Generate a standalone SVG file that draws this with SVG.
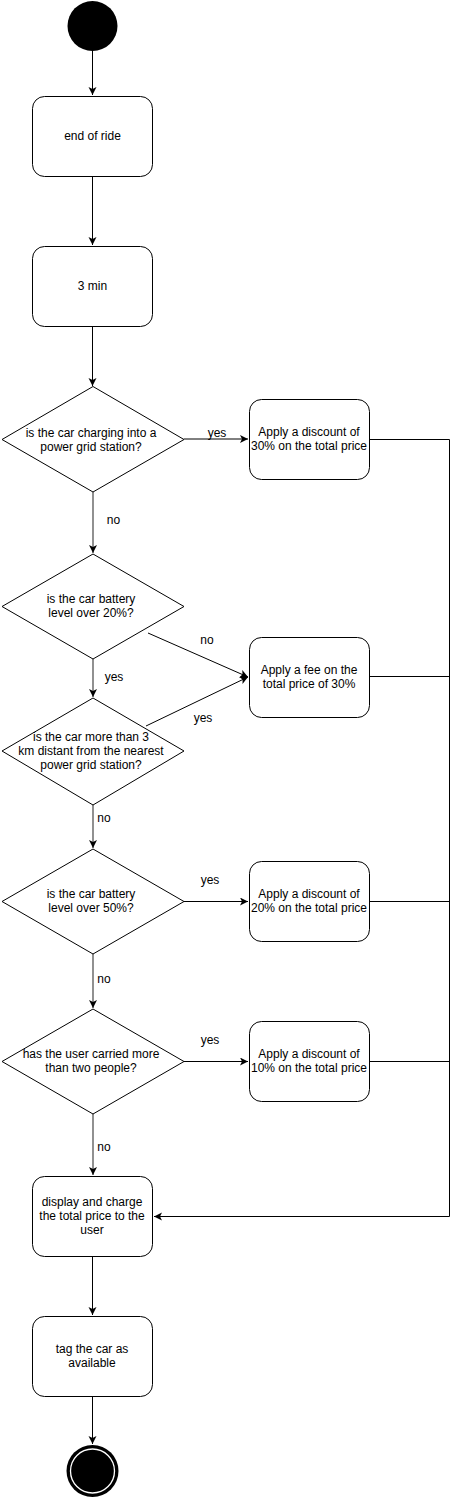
<svg xmlns="http://www.w3.org/2000/svg" width="460" height="1499" viewBox="0 0 460 1499">
<style>
.n{fill:#fff;stroke:#000;stroke-width:1}
.t{font-family:"Liberation Sans",Arial,sans-serif;font-size:12px;fill:#000;text-anchor:middle}
.e{fill:none;stroke:#000;stroke-width:1}
.g{fill:none;stroke:#555;stroke-width:1.3}
</style>
<defs>
<marker id="a" markerWidth="10" markerHeight="10" refX="8" refY="4" orient="auto" markerUnits="userSpaceOnUse">
<path d="M0,0 L8,4 L0,8 L2,4 z" fill="#000"/>
</marker>
</defs>
<g id="connectors">
<path class="e" d="M92.5,51 V95" marker-end="url(#a)"/>
<path class="e" d="M92.5,176 V245" marker-end="url(#a)"/>
<path class="e" d="M92.5,326 V386" marker-end="url(#a)"/>
<path class="e" d="M184,439 H248" marker-end="url(#a)"/>
<path class="g" d="M93,492 V553" marker-end="url(#a)"/>
<path class="e" d="M148,633 L248,677" marker-end="url(#a)"/>
<path class="g" d="M93,659 V697" marker-end="url(#a)"/>
<path class="e" d="M146,726 L248,677" marker-end="url(#a)"/>
<path class="g" d="M93,805 V848" marker-end="url(#a)"/>
<path class="e" d="M184,901.5 H248" marker-end="url(#a)"/>
<path class="g" d="M93,954 V1008" marker-end="url(#a)"/>
<path class="e" d="M184,1061.5 H248" marker-end="url(#a)"/>
<path class="g" d="M93,1114 V1175" marker-end="url(#a)"/>
<path class="e" d="M369,439.5 H449.5 V1216.5 H154" marker-end="url(#a)"/>
<path class="e" d="M369,676.5 H449.5"/>
<path class="e" d="M369,901.5 H449.5"/>
<path class="e" d="M369,1061.5 H449.5"/>
<path class="e" d="M92.5,1256 V1315" marker-end="url(#a)"/>
<path class="e" d="M92.5,1396 V1444" marker-end="url(#a)"/>
<text class="t" x="217" y="437">yes</text>
<text class="t" x="113.5" y="524">no</text>
<text class="t" x="207" y="644">no</text>
<text class="t" x="114" y="681">yes</text>
<text class="t" x="203" y="722">yes</text>
<text class="t" x="104" y="822">no</text>
<text class="t" x="210" y="884">yes</text>
<text class="t" x="104" y="983">no</text>
<text class="t" x="210" y="1044">yes</text>
<text class="t" x="104" y="1151">no</text>
</g>
<g id="start"><circle cx="92.5" cy="26" r="25" fill="#000"/></g>
<g id="endofride"><rect class="n" x="32.5" y="96.5" width="120" height="80" rx="12"/><text class="t" x="92.5" y="140">end of ride</text></g>
<g id="wait"><rect class="n" x="32.5" y="246.5" width="120" height="80" rx="12"/><text class="t" x="92.5" y="290">3 min</text></g>
<g id="d1"><polygon class="n" points="93,386.5 184,439.5 93,492 2,439.5"/><text class="t" x="91" y="437">is the car charging into a</text><text class="t" x="91" y="451">power grid station?</text></g>
<g id="b30"><rect class="n" x="249.5" y="399.5" width="120" height="80" rx="12"/><text class="t" x="309" y="436">Apply a discount of</text><text class="t" x="309" y="450">30% on the total price</text></g>
<g id="d2"><polygon class="n" points="93,554 184,606.5 93,659 2,606.5"/><text class="t" x="91" y="603">is the car battery</text><text class="t" x="91" y="617">level over 20%?</text></g>
<g id="fee"><rect class="n" x="249.5" y="637.5" width="120" height="80" rx="12"/><text class="t" x="309" y="674">Apply a fee on the</text><text class="t" x="309" y="688">total price of 30%</text></g>
<g id="d3"><polygon class="n" points="93,698 184,751 93,805 2,751"/><text class="t" x="91" y="741">is the car more than 3</text><text class="t" x="91" y="755">km distant from the nearest</text><text class="t" x="91" y="769">power grid station?</text></g>
<g id="d4"><polygon class="n" points="93,849 184,901.5 93,954 2,901.5"/><text class="t" x="91" y="898">is the car battery</text><text class="t" x="91" y="912">level over 50%?</text></g>
<g id="b20"><rect class="n" x="249.5" y="861.5" width="120" height="80" rx="12"/><text class="t" x="309" y="898">Apply a discount of</text><text class="t" x="309" y="912">20% on the total price</text></g>
<g id="d5"><polygon class="n" points="93,1009 184,1061.5 93,1114 2,1061.5"/><text class="t" x="91" y="1058">has the user carried more</text><text class="t" x="91" y="1072">than two people?</text></g>
<g id="b10"><rect class="n" x="249.5" y="1021.5" width="120" height="80" rx="12"/><text class="t" x="309" y="1058">Apply a discount of</text><text class="t" x="309" y="1072">10% on the total price</text></g>
<g id="display"><rect class="n" x="32.5" y="1176.5" width="120" height="80" rx="12"/><text class="t" x="92" y="1206">display and charge</text><text class="t" x="92" y="1220">the total price to the</text><text class="t" x="92" y="1234">user</text></g>
<g id="tag"><rect class="n" x="32.5" y="1316.5" width="120" height="80" rx="12"/><text class="t" x="92" y="1353">tag the car as</text><text class="t" x="92" y="1367">available</text></g>
<g id="end"><circle cx="92.5" cy="1471" r="26" fill="#000"/><circle cx="92.5" cy="1471" r="22" fill="none" stroke="#fff" stroke-width="1.3"/></g>
</svg>
